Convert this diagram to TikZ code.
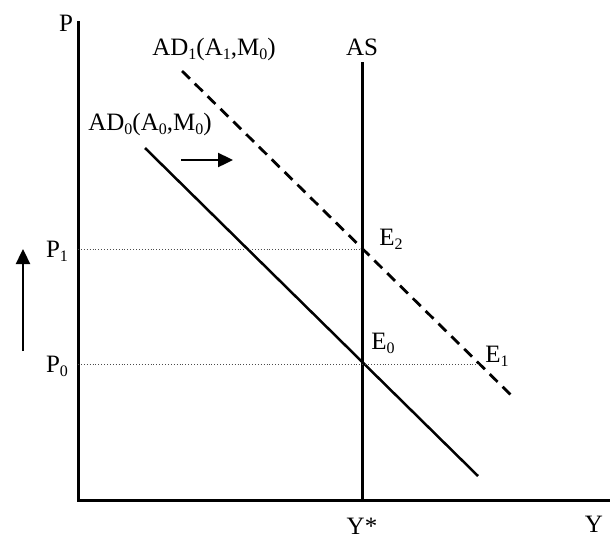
\documentclass[tikz,border=0pt]{standalone}
\usepackage{fontspec}
\setmainfont{Liberation Serif}
\usetikzlibrary{arrows.meta}
\newcommand\mysub[1]{\raisebox{-0.35ex}{\fontsize{16}{16}\selectfont #1}}
\begin{document}
\begin{tikzpicture}[x=1pt,y=-1pt,
  lbl/.style={inner sep=0pt,font=\fontsize{25}{28}\selectfont},
  axisline/.style={line width=3pt},
  adline/.style={line width=2.5pt},
  adshift/.style={line width=2.8pt,dash pattern=on 11pt off 7pt},
  guide/.style={line width=0.9pt,dotted,gray!60!black},
  shiftarrow/.style={line width=2.4pt,-{Triangle[width=14pt,length=15pt]}}]
\useasboundingbox (0,0) rectangle (610,539);
% axes
\coordinate (Ptop) at (78,21);
\coordinate (O) at (78,500);
\coordinate (Xend) at (612,500);
\draw[axisline] (Ptop) -- (O) -- (Xend);
% AS
\coordinate (AStop) at (362,62);
\coordinate (ASbot) at (362,500);
\draw[axisline] (AStop) -- (ASbot);
% AD curves
\coordinate (AD0s) at (145,148);
\coordinate (AD0e) at (478,476);
\draw[adline] (AD0s) -- (AD0e);
\coordinate (AD1s) at (182,71);
\coordinate (AD1e) at (513,397);
\draw[adshift] (AD1s) -- (AD1e);
% intersection points
\coordinate (E2p) at (362,249);
\coordinate (E0p) at (362,364);
\coordinate (E1p) at (480,364);
\coordinate (P1p) at (78,249);
\coordinate (P0p) at (78,364);
\draw[guide] (P1p) -- (E2p);
\draw[guide] (P0p) -- (E1p);
% labels
\node[lbl] (P) at (66,23) {P};
\node[lbl] (AS) at (362,47) {AS};
\node[lbl] (AD1) at (214,49) {AD\mysub{1}(A\mysub{1},M\mysub{0})};
\node[lbl] (AD0) at (150,124) {AD\mysub{0}(A\mysub{0},M\mysub{0})};
\node[lbl] (P1) at (57,251) {P\mysub{1}};
\node[lbl] (P0) at (57,366) {P\mysub{0}};
\node[lbl] (E2) at (391,239) {E\mysub{2}};
\node[lbl] (E0) at (383,343) {E\mysub{0}};
\node[lbl] (E1) at (497,356) {E\mysub{1}};
\node[lbl] (Ystar) at (362,526) {Y*};
\node[lbl,anchor=east] (Y) at (603,524) {Y};
% shift arrows
\coordinate (RA1) at (181,160);
\coordinate (RA2) at (233,160);
\draw[shiftarrow] (RA1) -- (RA2);
\coordinate (UA1) at (23,351);
\coordinate (UA2) at (23,249);
\draw[shiftarrow] (UA1) -- (UA2);
\end{tikzpicture}
\end{document}
